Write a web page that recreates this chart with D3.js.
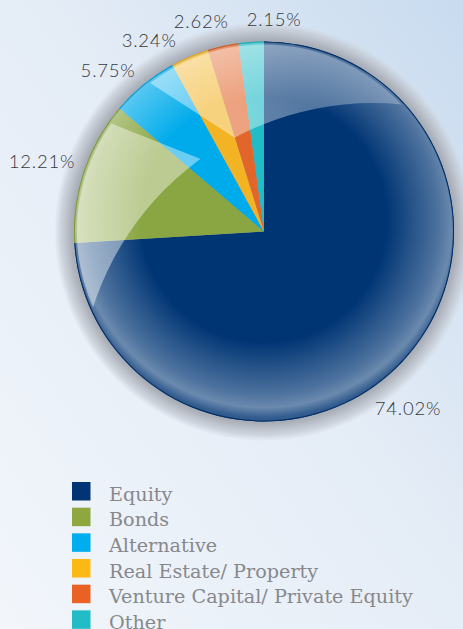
<!DOCTYPE html>
<html>
<head>
<meta charset="utf-8">
<script src="https://cdn.jsdelivr.net/npm/d3@7"></script>
<style>
  html, body { margin: 0; padding: 0; }
  body { width: 463px; height: 629px; overflow: hidden; }
</style>
</head>
<body>
<svg id="chart" width="463" height="629"></svg>
<script>
// Asset allocation shares (%)
const categories = ["Equity", "Bonds", "Alternative", "Real Estate/ Property", "Venture Capital/ Private Equity", "Other"];
const shares = [74.02, 12.21, 5.75, 3.24, 2.62, 2.15];
const shareLabels = ["74.02%", "12.21%", "5.75%", "3.24%", "2.62%", "2.15%"];
const colors = ["#003574", "#8aa643", "#00abeb", "#f2b325", "#e2652b", "#22bcc7"];
const legendColors = ["#003474", "#8ea83f", "#00aeef", "#fdb913", "#e96125", "#22bcc6"];

// Label placement around the pie: angular shift (deg) from slice middle and radius
const labelShift = [7.6, -0.85, -4.8, -8, -4.2, 6.6];
const labelRadius = [228, 233, 224.5, 223, 219, 212];

const W = 463, H = 629;
const cx = 264, cy = 231.5, R = 190, haloR = 209;

const svg = d3.select("#chart");
const defs = svg.append("defs");

// Background wash
const bg = defs.append("linearGradient").attr("id", "bg")
  .attr("x1", "0").attr("y1", "1").attr("x2", "1").attr("y2", "0");
bg.append("stop").attr("offset", "0").attr("stop-color", "#f2f6fb");
bg.append("stop").attr("offset", "0.55").attr("stop-color", "#e4ecf6");
bg.append("stop").attr("offset", "1").attr("stop-color", "#c8dbef");
svg.append("rect").attr("width", W).attr("height", H).attr("fill", "url(#bg)");

// Grey halo behind the pie
const halo = defs.append("radialGradient").attr("id", "halo")
  .attr("gradientUnits", "userSpaceOnUse")
  .attr("cx", cx).attr("cy", cy).attr("r", haloR);
halo.append("stop").attr("offset", 0.88).attr("stop-color", "#9499a3").attr("stop-opacity", 1);
halo.append("stop").attr("offset", 0.93).attr("stop-color", "#aeb3bc").attr("stop-opacity", 0.95);
halo.append("stop").attr("offset", 0.975).attr("stop-color", "#c4cad3").attr("stop-opacity", 0.7);
halo.append("stop").attr("offset", 1).attr("stop-color", "#d2d9e2").attr("stop-opacity", 0.2);
svg.append("circle").attr("cx", cx).attr("cy", cy).attr("r", haloR).attr("fill", "url(#halo)");

const pie = d3.pie().sort(null).value(d => d.value);
const data = pie(categories.map((c, i) => ({ name: c, value: shares[i], i })));
const arc = d3.arc().innerRadius(0).outerRadius(R);

const g = svg.append("g").attr("transform", `translate(${cx},${cy})`);

g.selectAll("path.slice").data(data).join("path")
  .attr("class", "slice")
  .attr("d", arc)
  .attr("fill", d => colors[d.data.i]);

// Thin darker rim along the outer edge of each slice
const rim = d3.arc().innerRadius(R - 2).outerRadius(R);
g.selectAll("path.rim").data(data).join("path")
  .attr("class", "rim")
  .attr("d", rim)
  .attr("fill", d => d3.color(colors[d.data.i]).darker(0.25));

// Glow band around the lower/right edge
const glow = defs.append("radialGradient").attr("id", "glow")
  .attr("gradientUnits", "userSpaceOnUse")
  .attr("cx", 0).attr("cy", -12).attr("r", R + 8);
glow.append("stop").attr("offset", 0).attr("stop-color", "#fff").attr("stop-opacity", 0);
glow.append("stop").attr("offset", 0.62).attr("stop-color", "#fff").attr("stop-opacity", 0);
glow.append("stop").attr("offset", 0.88).attr("stop-color", "#fff").attr("stop-opacity", 0.3);
glow.append("stop").attr("offset", 0.95).attr("stop-color", "#fff").attr("stop-opacity", 0.42);
glow.append("stop").attr("offset", 1).attr("stop-color", "#fff").attr("stop-opacity", 0.2);
g.append("circle").attr("r", R - 1).attr("fill", "url(#glow)");

// Gloss: inside the pie, outside a large offset circle, minus a refracted notch
defs.append("clipPath").attr("id", "pieClip")
  .append("circle").attr("cx", 0).attr("cy", 0).attr("r", R - 3);

// Two refraction lines (local coords): y = y0 + k (x - x0)
const line1 = { x0: -114, y0: -148.5, k: 0.647 };
const line2 = { x0: -154, y0: -108.5, k: 0.398 };
const yAt = (l, x) => l.y0 + l.k * (x - l.x0);
const px = (line2.y0 - line1.y0 + line1.k * line1.x0 - line2.k * line2.x0) / (line1.k - line2.k);
const py = yAt(line1, px);
const E = 320;
defs.append("clipPath").attr("id", "notchClip")
  .append("path")
  .attr("d", `M${px},${py}L${-E},${yAt(line1, -E)}L${-E},${-E}L${E},${-E}L${E},${E}L${-E},${E}L${-E},${yAt(line2, -E)}Z`);

const gloss = defs.append("linearGradient").attr("id", "gloss")
  .attr("gradientUnits", "userSpaceOnUse")
  .attr("x1", -R).attr("y1", 0).attr("x2", R * 0.8).attr("y2", -R * 0.5);
gloss.append("stop").attr("offset", 0).attr("stop-color", "#fff").attr("stop-opacity", 0.44);
gloss.append("stop").attr("offset", 0.55).attr("stop-color", "#fff").attr("stop-opacity", 0.4);
gloss.append("stop").attr("offset", 0.8).attr("stop-color", "#fff").attr("stop-opacity", 0.3);
gloss.append("stop").attr("offset", 1).attr("stop-color", "#fff").attr("stop-opacity", 0.24);

const lcx = 109, lcy = 165.5, lr = 294;
const crescent = `M${-R - 5},${-R - 5}H${R + 5}V${R + 5}H${-R - 5}Z` +
  `M${lcx + lr},${lcy}A${lr},${lr} 0 1,0 ${lcx - lr},${lcy}A${lr},${lr} 0 1,0 ${lcx + lr},${lcy}Z`;
g.append("g").attr("clip-path", "url(#notchClip)")
  .append("path")
  .attr("d", crescent)
  .attr("fill-rule", "evenodd")
  .attr("clip-path", "url(#pieClip)")
  .attr("fill", "url(#gloss)");

// Percentage labels
const toRad = Math.PI / 180;
const labelAngle = d => (d.startAngle + d.endAngle) / 2 + labelShift[d.data.i] * toRad;
g.selectAll("text.pct").data(data).join("text")
  .attr("class", "pct")
  .attr("x", d => labelRadius[d.data.i] * Math.sin(labelAngle(d)))
  .attr("y", d => -labelRadius[d.data.i] * Math.cos(labelAngle(d)))
  .attr("dy", "0.36em")
  .attr("text-anchor", "middle")
  .attr("font-family", "Lato, 'Open Sans', sans-serif")
  .attr("font-weight", 300)
  .attr("font-size", 18.5)
  .attr("letter-spacing", 0.8)
  .attr("fill", "#38383b")
  .text(d => shareLabels[d.data.i]);

// Legend
const legendY = d3.scaleBand().domain(categories).range([482, 636]).paddingInner(0);
const legend = svg.append("g");
const items = legend.selectAll("g").data(categories).join("g")
  .attr("transform", d => `translate(72,${legendY(d)})`);
items.append("rect")
  .attr("width", 18.5).attr("height", 18.5)
  .attr("fill", (d, i) => legendColors[i]);
items.append("text")
  .attr("x", 37).attr("y", 18.7)
  .attr("font-family", "'DejaVu Serif', serif")
  .attr("font-size", 19.2)
  .attr("fill", "#87888b")
  .text(d => d);
</script>
</body>
</html>
